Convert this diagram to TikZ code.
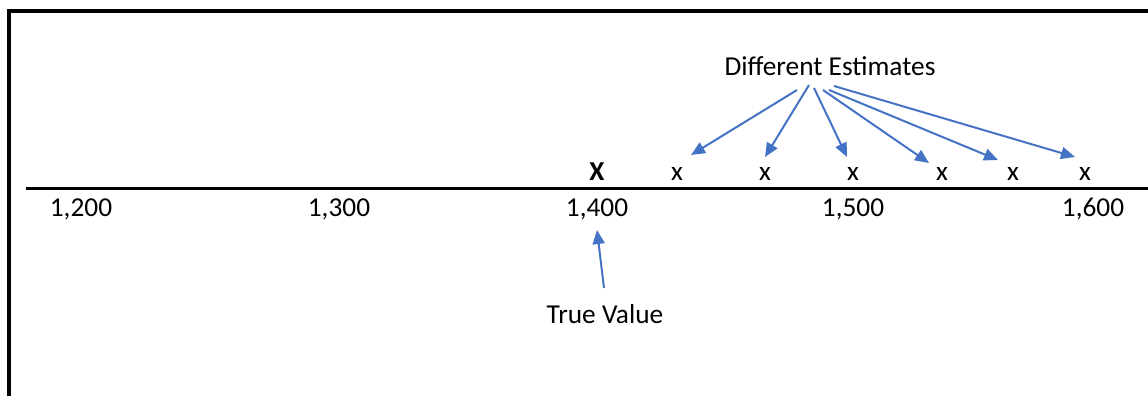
\documentclass[tikz,border=0pt]{standalone}
\usepackage{fontspec}
\setmainfont{Carlito}
\usetikzlibrary{arrows.meta}
\definecolor{ptrblue}{RGB}{68,114,196}
\tikzset{
  lbl/.style={inner sep=0pt,anchor=base,font=\fontsize{20.5}{24}\selectfont},
  truemark/.style={lbl,font=\fontsize{20.5}{24}\selectfont\bfseries},
  ptr/.style={-{Triangle[length=10.5pt,width=9pt]},draw=ptrblue,fill=ptrblue,line width=1.5pt}
}
\begin{document}
\begin{tikzpicture}[x=0.75pt,y=-0.75pt]
  \useasboundingbox (0,0) rectangle (1148,396);
  % frame and number line
  \draw[line width=2.3pt] (9,396) -- (9,11) -- (1148,11);
  \draw[line width=2.2pt] (26,188.5) -- (1148,188.5);
  % scale
  \node[lbl] (t1200) at (81,216) {1,200};
  \node[lbl] (t1300) at (339,216) {1,300};
  \node[lbl] (t1400) at (597,216) {1,400};
  \node[lbl] (t1500) at (853,216) {1,500};
  \node[lbl] (t1600) at (1093,216) {1,600};
  % true value and estimates
  \node[truemark] (truex) at (597,180) {X};
  \foreach \x [count=\i] in {677,765,853,942,1013,1085}
    \node[lbl] (est\i) at (\x,180) {x};
  \node[lbl] (diff) at (830,75) {Different Estimates};
  \node[lbl] (truev) at (605,323) {True Value};
  % pointers
  \foreach \sx/\sy/\tx/\ty [count=\i] in {797/90/691/155, 809/85/765/157, 814/88/847/157,
      823/90/929/163, 829/90/998/160, 834/86/1075/157}{
    \coordinate (from\i) at (\sx,\sy);
    \coordinate (to\i) at (\tx,\ty);
    \draw[ptr] (from\i) -- (to\i);
  }
  \coordinate (tvfrom) at (604,288);
  \coordinate (tvto) at (597,230);
  \draw[ptr] (tvfrom) -- (tvto);
\end{tikzpicture}
\end{document}
